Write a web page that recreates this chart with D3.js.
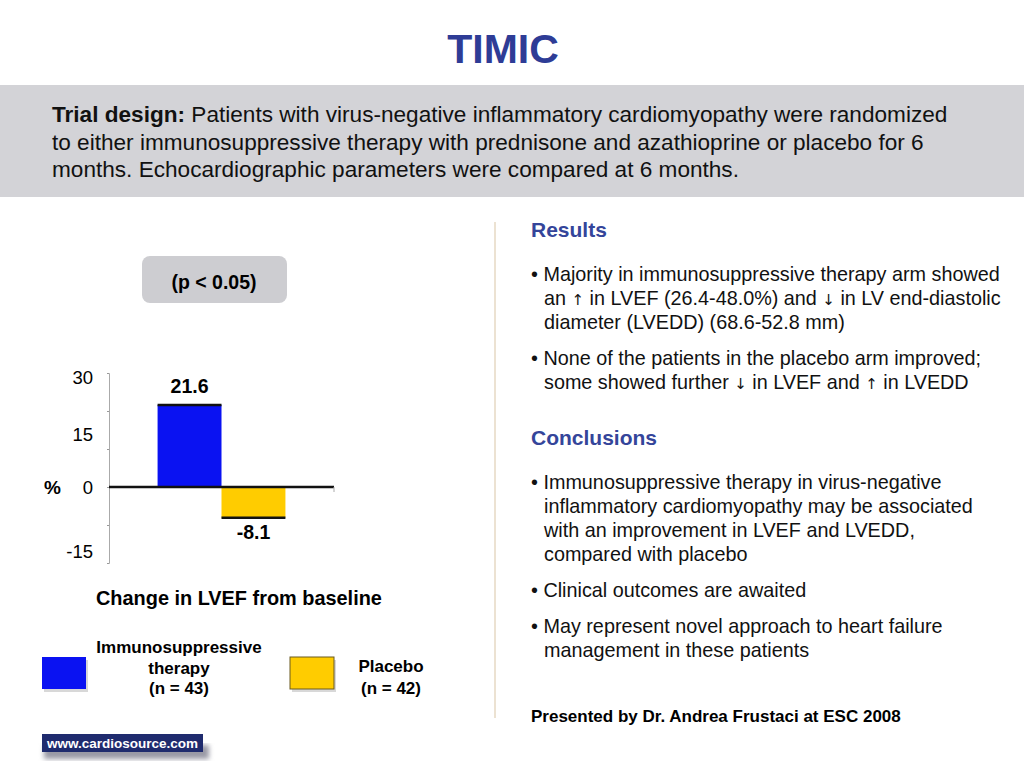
<!DOCTYPE html>
<html>
<head>
<meta charset="utf-8">
<script src="https://cdn.jsdelivr.net/npm/d3@7"></script>
<style>
  body { margin: 0; background: #fff; }
  svg { display: block; font-family: "Liberation Sans", Arial, Helvetica, sans-serif; }
  .bold { font-weight: bold; }
  .arrow { font-family: "DejaVu Sans", sans-serif; font-size: 15px; }
</style>
</head>
<body>
<div id="chart"></div>
<script>
// chart data
var groups = ["Immunosuppressive therapy", "Placebo"];
var changes = [21.6, -8.1];
var tickLabels = [30, 15, 0, -15];
var tickMarks = [30, 20, 10, 0, -10, -20];

// legend text
var legendLines = [
  ["Immunosuppressive", "therapy", "(n = 43)"],
  ["Placebo", "(n = 42)"]
];

// slide text
var designLines = [
  "Patients with virus-negative inflammatory cardiomyopathy were randomized",
  "to either immunosuppressive therapy with prednisone and azathioprine or placebo for 6",
  "months. Echocardiographic parameters were compared at 6 months."
];
var results = [
  ["Majority in immunosuppressive therapy arm showed", "an \u2191 in LVEF (26.4-48.0%) and \u2193 in LV end-diastolic", "diameter (LVEDD) (68.6-52.8 mm)"],
  ["None of the patients in the placebo arm improved;", "some showed further \u2193 in LVEF and \u2191 in LVEDD"]
];
var conclusions = [
  ["Immunosuppressive therapy in virus-negative", "inflammatory cardiomyopathy may be associated", "with an improvement in LVEF and LVEDD,", "compared with placebo"],
  ["Clinical outcomes are awaited"],
  ["May represent novel approach to heart failure", "management in these patients"]
];

var W = 1024, H = 768;
var svg = d3.select("#chart").append("svg")
  .attr("width", W)
  .attr("height", H);

var defs = svg.append("defs");
defs.append("filter").attr("id", "blur")
  .append("feGaussianBlur").attr("stdDeviation", 2.5);

// title
svg.append("text")
  .attr("x", 503).attr("y", 63)
  .attr("text-anchor", "middle")
  .attr("class", "bold")
  .style("font-size", "41px")
  .style("fill", "#2e3c96")
  .text("TIMIC");

// trial design band
svg.append("rect")
  .attr("x", 0).attr("y", 85)
  .attr("width", W).attr("height", 112)
  .style("fill", "#d3d3d7");

var design = svg.append("text")
  .style("font-size", "22.6px")
  .style("fill", "#111");
designLines.forEach(function(line, i) {
  var t = design.append("tspan")
    .attr("x", 52)
    .attr("y", 122 + i * 27.5);
  if (i == 0) {
    t.append("tspan").attr("class", "bold").text("Trial design: ");
  }
  t.append("tspan").text(line);
});

// divider
svg.append("line")
  .attr("x1", 495).attr("y1", 222)
  .attr("x2", 495).attr("y2", 718)
  .style("stroke", "#ece2d2")
  .style("stroke-width", 2);

// p value box
svg.append("rect")
  .attr("x", 142).attr("y", 256)
  .attr("width", 145).attr("height", 47)
  .attr("rx", 8)
  .style("fill", "#cdcdd1");
svg.append("text")
  .attr("x", 214).attr("y", 289)
  .attr("text-anchor", "middle")
  .attr("class", "bold")
  .style("font-size", "19.5px")
  .text("(p < 0.05)");

// bar chart
var y = d3.scaleLinear()
  .domain([-20, 30])
  .range([563, 373]);

var x = d3.scaleBand()
  .domain(groups)
  .range([109, 334])
  .paddingInner(0)
  .paddingOuter(0.76);

var color = d3.scaleOrdinal()
  .domain(groups)
  .range(["#0a12f2", "#ffcc00"]);

var yAxis = svg.append("g")
  .attr("transform", "translate(109,0)")
  .call(d3.axisLeft(y).tickValues(tickMarks).tickSize(2).tickFormat(""));
yAxis.select(".domain").style("stroke", "#aaa");
yAxis.selectAll(".tick line").style("stroke", "#999");

svg.selectAll(".ylabel")
  .data(tickLabels)
  .enter()
  .append("text")
  .attr("class", "ylabel")
  .attr("x", 93)
  .attr("y", function(d) { return y(d) + 7 + (d > 0 ? 4 : d < 0 ? 7 : 0); })
  .attr("text-anchor", "end")
  .style("font-size", "18.5px")
  .text(function(d) { return d; });

svg.append("text")
  .attr("x", 44).attr("y", 494)
  .attr("class", "bold")
  .style("font-size", "19px")
  .text("%");

var bars = svg.selectAll(".bar")
  .data(groups)
  .enter()
  .append("g")
  .attr("class", "bar");

bars.append("rect")
  .attr("x", function(d) { return x(d); })
  .attr("width", x.bandwidth())
  .attr("y", function(d, i) { return y(Math.max(0, changes[i])); })
  .attr("height", function(d, i) { return Math.abs(y(changes[i]) - y(0)); })
  .style("fill", function(d) { return color(d); });

bars.append("line")
  .attr("x1", function(d) { return x(d); })
  .attr("x2", function(d) { return x(d) + x.bandwidth(); })
  .attr("y1", function(d, i) { return y(changes[i]); })
  .attr("y2", function(d, i) { return y(changes[i]); })
  .style("stroke", "#111")
  .style("stroke-width", 2.5);

bars.append("text")
  .attr("x", function(d) { return x(d) + x.bandwidth() / 2; })
  .attr("y", function(d, i) { return changes[i] > 0 ? y(changes[i]) - 12 : y(changes[i]) + 21; })
  .attr("text-anchor", "middle")
  .attr("class", "bold")
  .style("font-size", "19.5px")
  .text(function(d, i) { return changes[i]; });

// zero line
svg.append("line")
  .attr("x1", 109).attr("x2", 334)
  .attr("y1", y(0)).attr("y2", y(0))
  .style("stroke", "#111")
  .style("stroke-width", 2.5);
svg.append("line")
  .attr("x1", 334).attr("x2", 334)
  .attr("y1", y(0)).attr("y2", y(0) + 5)
  .style("stroke", "#aaa");

svg.append("text")
  .attr("x", 96).attr("y", 605)
  .attr("class", "bold")
  .style("font-size", "19.9px")
  .text("Change in LVEF from baseline");

// legend
var legendBox = [[42, 179], [290, 391]];
var legendTop = [653, 672];
groups.forEach(function(g, i) {
  var bx = legendBox[i][0];
  svg.append("rect")
    .attr("x", bx + 2).attr("y", 660)
    .attr("width", 44).attr("height", 32)
    .style("fill", "#d8d8d8");
  svg.append("rect")
    .attr("x", bx).attr("y", 657)
    .attr("width", 44).attr("height", 32)
    .style("fill", color(g))
    .style("stroke", i == 1 ? "#6b5a20" : "none")
    .style("stroke-width", 1);
  var t = svg.append("text")
    .attr("text-anchor", "middle")
    .attr("class", "bold")
    .style("font-size", "17px");
  legendLines[i].forEach(function(line, j) {
    t.append("tspan")
      .attr("x", legendBox[i][1])
      .attr("y", legendTop[i] + j * (i == 0 ? 20.5 : 22))
      .text(line);
  });
});

// right column
function writeLine(t, x0, y0, str) {
  // arrows go in a plain font so they are not drawn as coloured glyphs
  var parts = str.split(/([\u2191\u2193])/);
  parts.forEach(function(p, k) {
    var s = t.append("tspan").text(p);
    if (k == 0) s.attr("x", x0).attr("y", y0);
    if (p == "\u2191" || p == "\u2193") s.attr("class", "arrow");
  });
}

function section(title, items, top) {
  svg.append("text")
    .attr("x", 531).attr("y", top)
    .attr("class", "bold")
    .style("font-size", "21px")
    .style("fill", "#34459a")
    .text(title);
  var yy = top + 44;
  items.forEach(function(lines) {
    var t = svg.append("text").style("font-size", "19.8px").style("fill", "#111");
    lines.forEach(function(line, j) {
      writeLine(t, j == 0 ? 531 : 544, yy + j * 24, j == 0 ? "\u2022 " + line : line);
    });
    yy += lines.length * 24 + 12;
  });
}
section("Results", results, 237);
section("Conclusions", conclusions, 445);

svg.append("text")
  .attr("x", 531).attr("y", 722)
  .attr("class", "bold")
  .style("font-size", "17px")
  .text("Presented by Dr. Andrea Frustaci at ESC 2008");

// logo
svg.append("rect")
  .attr("x", 44).attr("y", 745)
  .attr("width", 165).attr("height", 14)
  .style("fill", "#9a9aa6")
  .attr("filter", "url(#blur)");
svg.append("rect")
  .attr("x", 42).attr("y", 734)
  .attr("width", 161).attr("height", 18)
  .style("fill", "#1f2b6e");
svg.append("text")
  .attr("x", 47).attr("y", 748)
  .attr("class", "bold")
  .style("font-size", "13.5px")
  .style("fill", "#fff")
  .text("www.cardiosource.com");
</script>
</body>
</html>
